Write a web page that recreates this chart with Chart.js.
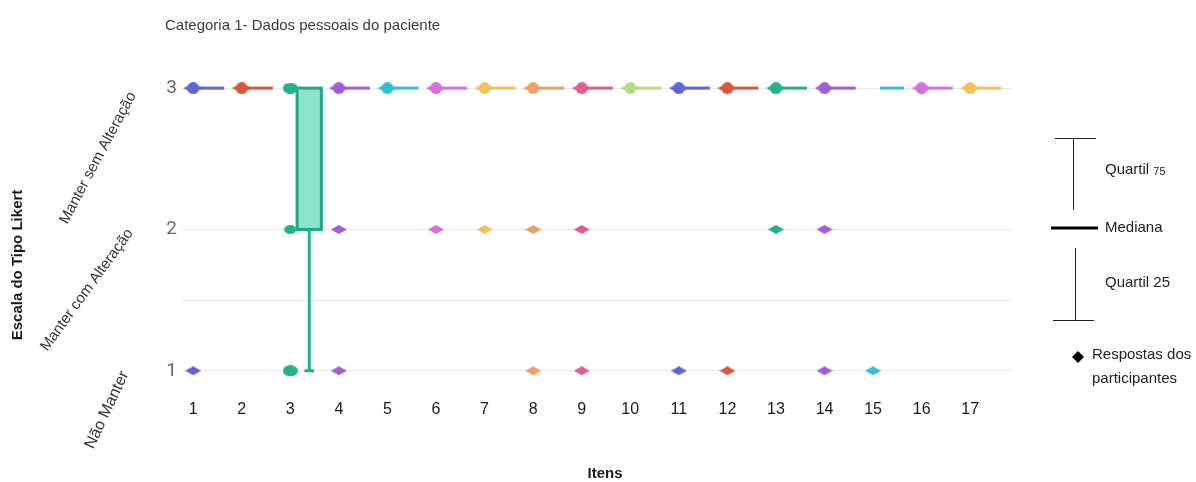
<!DOCTYPE html>
<html>
<head>
<meta charset="utf-8">
<script src="https://cdn.jsdelivr.net/npm/chart.js@4.4.0/dist/chart.umd.min.js"></script>
<style>
  html, body { margin: 0; padding: 0; background: #fff; }
  #wrap { width: 1196px; height: 482px; position: relative; }
</style>
</head>
<body>
<div id="wrap"><canvas id="chart"></canvas></div>
<script>
// items on the x axis
var items = ['1','2','3','4','5','6','7','8','9','10','11','12','13','14','15','16','17'];
// boxplot stats per item (Likert 1..3)
var q1      = [3,3,2,3,3,3,3,3,3,3,3,3,3,3,3,3,3];
var median  = [3,3,2,3,3,3,3,3,3,3,3,3,3,3,3,3,3];
var q3      = [3,3,3,3,3,3,3,3,3,3,3,3,3,3,3,3,3];
var whiskMin= [3,3,1,3,3,3,3,3,3,3,3,3,3,3,3,3,3];
var whiskMax= [3,3,3,3,3,3,3,3,3,3,3,3,3,3,3,3,3];
// distinct answers shown as points
var responses = [[3,1],[3],[3,2,1],[3,2,1],[3],[3,2],[3,2],[3,2,1],[3,2,1],[3],[3,1],[3,1],[3,2],[3,2,1],[1],[3],[3]];
var yTickLabels = [1, 2, 3];
var yGridValues = [1, 1.5, 2, 3];
var yLabels = ['Manter sem Alteração', 'Manter com Alteração', 'Não Manter'];

var colors = ['#5d66d4','#d9573d','#20b386','#a25ddc','#30bfd3','#d86ee0','#efc35a','#ee9f63','#e45e89','#b2dc7e',
              '#5d66d4','#d9573d','#20b386','#a25ddc','#30bfd3','#d86ee0','#efc35a'];

var FONT = '"Liberation Sans", Arial, sans-serif';

function marker(color, w, h, kind) {
  var c = document.createElement('canvas');
  c.width = w; c.height = h;
  var g = c.getContext('2d');
  g.fillStyle = color;
  if (kind === 'ellipse') {
    g.beginPath();
    g.ellipse(w / 2, h / 2, w / 2, h / 2, 0, 0, Math.PI * 2);
    g.fill();
  } else if (kind === 'lens') {
    g.beginPath();
    g.moveTo(0, h / 2); g.lineTo(w / 2, 1); g.lineTo(w, h / 2); g.lineTo(w / 2, h - 1);
    g.closePath(); g.fill();
    g.beginPath();
    g.ellipse(w / 2, h / 2, w * 0.3, h / 2, 0, 0, Math.PI * 2);
    g.fill();
  } else {
    g.beginPath();
    g.moveTo(0, h / 2); g.lineTo(w / 2, 0); g.lineTo(w, h / 2); g.lineTo(w / 2, h);
    g.closePath(); g.fill();
  }
  return c;
}

var datasets = items.map(function (it, i) {
  var col = colors[i];
  return {
    label: 'Item ' + it,
    data: responses[i].map(function (v) { return { x: i + 1, y: v }; }),
    pointStyle: function (ctx) {
      var v = ctx.raw ? ctx.raw.y : 3;
      if (i === 2) return v === 2 ? marker(col, 12, 9, 'ellipse') : marker(col, 15, 11, 'ellipse');
      return v === 3 ? marker(col, 20, 12, 'lens') : marker(col, 16, 9, 'diamond');
    },
    backgroundColor: col,
    borderColor: col,
    pointRadius: 6,
    pointHoverRadius: 6
  };
});

var boxFrom = 0.14, boxTo = 0.64, capHalf = 0.1;

var boxPlugin = {
  id: 'boxes',
  beforeDatasetsDraw: function (chart) {
    var xs = chart.scales.x, ys = chart.scales.y, ctx = chart.ctx;
    ctx.save();
    for (var i = 0; i < items.length; i++) {
      var pos = i + 1;
      var x0 = xs.getPixelForValue(pos + boxFrom), x1 = xs.getPixelForValue(pos + boxTo);
      var xc = xs.getPixelForValue(pos + (boxFrom + boxTo) / 2);
      var yq1 = ys.getPixelForValue(q1[i]), yq3 = ys.getPixelForValue(q3[i]);
      ctx.strokeStyle = colors[i];
      ctx.lineWidth = 3;
      if (whiskMin[i] < q1[i]) {
        var ymin = ys.getPixelForValue(whiskMin[i]);
        ctx.beginPath(); ctx.moveTo(xc, yq1); ctx.lineTo(xc, ymin); ctx.stroke();
        ctx.beginPath();
        ctx.moveTo(xs.getPixelForValue(pos + (boxFrom + boxTo) / 2 - capHalf), ymin);
        ctx.lineTo(xs.getPixelForValue(pos + (boxFrom + boxTo) / 2 + capHalf), ymin);
        ctx.stroke();
      }
      if (whiskMax[i] > q3[i]) {
        var ymax = ys.getPixelForValue(whiskMax[i]);
        ctx.beginPath(); ctx.moveTo(xc, yq3); ctx.lineTo(xc, ymax); ctx.stroke();
      }
      if (q1[i] === q3[i]) {
        ctx.beginPath(); ctx.moveTo(x0, yq3); ctx.lineTo(x1, yq3); ctx.stroke();
      } else {
        ctx.fillStyle = 'rgba(40,205,155,0.55)';
        ctx.fillRect(x0, yq3, x1 - x0, yq1 - yq3);
        ctx.strokeStyle = '#22a882';
        ctx.strokeRect(x0, yq3, x1 - x0, yq1 - yq3);
        var ym = ys.getPixelForValue(median[i]);
        ctx.beginPath(); ctx.moveTo(x0, ym); ctx.lineTo(x1, ym); ctx.stroke();
      }
    }
    ctx.restore();
  }
};

var textPlugin = {
  id: 'texts',
  afterDraw: function (chart) {
    var ctx = chart.ctx;
    ctx.save();
    ctx.fillStyle = '#3a3a3a';
    ctx.textBaseline = 'middle';
    // title
    ctx.font = '15px ' + FONT;
    ctx.textAlign = 'left';
    ctx.fillText('Categoria 1- Dados pessoais do paciente', 165, 26);

    // axis titles
    ctx.fillStyle = '#1a1a1a';
    ctx.font = 'bold 15px ' + FONT;
    ctx.textAlign = 'center';
    ctx.fillText('Itens', 605, 474);
    ctx.save();
    ctx.translate(18, 265);
    ctx.rotate(-Math.PI / 2);
    ctx.fillText('Escala do Tipo Likert', 0, 0);
    ctx.restore();

    // rotated category names
    ctx.fillStyle = '#333';
    var spots = [[98, 158, 62, 15], [87, 290, 54, 15], [107, 410, 65, 16]];
    for (var k = 0; k < yLabels.length; k++) {
      ctx.save();
      ctx.font = spots[k][3] + 'px ' + FONT;
      ctx.translate(spots[k][0], spots[k][1]);
      ctx.rotate(-spots[k][2] * Math.PI / 180);
      ctx.fillText(yLabels[k], 0, 0);
      ctx.restore();
    }

    // legend key
    ctx.strokeStyle = '#222';
    ctx.lineWidth = 1;
    ctx.beginPath();
    ctx.moveTo(1055, 138.5); ctx.lineTo(1096, 138.5);
    ctx.moveTo(1073.5, 138); ctx.lineTo(1073.5, 210);
    ctx.moveTo(1075.5, 248); ctx.lineTo(1075.5, 320);
    ctx.moveTo(1053, 320.5); ctx.lineTo(1094, 320.5);
    ctx.stroke();
    ctx.lineWidth = 3;
    ctx.strokeStyle = '#000';
    ctx.beginPath(); ctx.moveTo(1051, 228); ctx.lineTo(1098, 228); ctx.stroke();

    ctx.fillStyle = '#000';
    ctx.beginPath();
    ctx.moveTo(1072, 357); ctx.lineTo(1078, 351); ctx.lineTo(1084, 357); ctx.lineTo(1078, 363);
    ctx.closePath(); ctx.fill();

    ctx.fillStyle = '#222';
    ctx.textAlign = 'left';
    ctx.font = '15px ' + FONT;
    ctx.fillText('Quartil ', 1105, 170);
    var w = ctx.measureText('Quartil ').width;
    ctx.font = '11px ' + FONT;
    ctx.fillText('75', 1105 + w, 172);
    ctx.font = '15px ' + FONT;
    ctx.fillText('Mediana', 1105, 228);
    ctx.fillText('Quartil 25', 1105, 283);
    ctx.fillText('Respostas dos', 1092, 355);
    ctx.fillText('participantes', 1092, 379);
    ctx.restore();
  }
};

new Chart(document.getElementById('chart'), {
  type: 'scatter',
  data: { datasets: datasets },
  plugins: [boxPlugin, textPlugin],
  options: {
    responsive: true,
    maintainAspectRatio: false,
    animation: false,
    layout: { padding: { left: 0, top: 74, right: 184, bottom: 0 } },
    plugins: {
      legend: { display: false },
      tooltip: { enabled: false },
      title: { display: false }
    },
    scales: {
      x: {
        type: 'linear',
        min: 0.77,
        max: 17.86,
        grid: { display: false, drawTicks: false },
        border: { display: false },
        afterFit: function (s) { s.height = 90; },
        afterBuildTicks: function (s) {
          s.ticks = items.map(function (it, i) { return { value: i + 1 }; });
        },
        ticks: {
          padding: 8,
          color: '#1a1a1a',
          font: { family: FONT, size: 16 },
          callback: function (v) { return items[v - 1]; }
        }
      },
      y: {
        min: 0.85,
        max: 3.1,
        grid: { color: '#e8e8e8', lineWidth: 1, drawTicks: false },
        border: { display: false },
        afterFit: function (s) { s.width = 182; },
        afterBuildTicks: function (s) {
          s.ticks = yGridValues.map(function (v) { return { value: v }; });
        },
        ticks: {
          padding: 5,
          color: '#666',
          font: { family: 'Roboto, "DejaVu Sans", sans-serif', size: 19 },
          callback: function (v) { return yTickLabels.indexOf(v) >= 0 ? String(v) : ''; }
        }
      }
    }
  }
});
</script>
</body>
</html>
